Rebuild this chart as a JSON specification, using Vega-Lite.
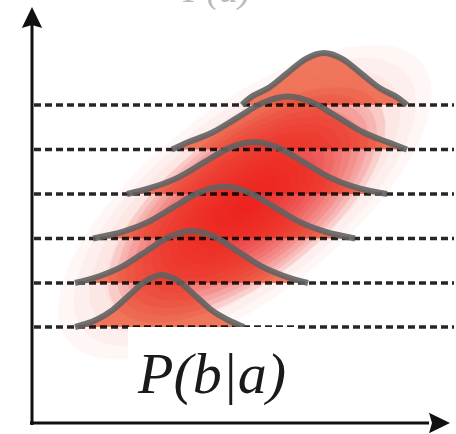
{
  "$schema": "https://vega.github.io/schema/vega-lite/v6.json",
  "width": 456,
  "height": 434,
  "autosize": {"type": "none"},
  "padding": 0,
  "background": "white",
  "config": {"view": {"stroke": null}},
  "resolve": {"scale": {"size": "independent"}},
  "datasets": {
    "glowBroad": [
      {"gx": 213, "gy": 221, "level": 1}, {"gx": 213, "gy": 221, "level": 2},
      {"gx": 213, "gy": 221, "level": 3}, {"gx": 213, "gy": 221, "level": 4},
      {"gx": 213, "gy": 221, "level": 5}, {"gx": 213, "gy": 221, "level": 6},
      {"gx": 213, "gy": 221, "level": 7}, {"gx": 213, "gy": 221, "level": 8},
      {"gx": 213, "gy": 221, "level": 9}, {"gx": 213, "gy": 221, "level": 10},
      {"gx": 213, "gy": 221, "level": 11}, {"gx": 213, "gy": 221, "level": 12}
    ],
    "glowCore": [
      {"gx": 215, "gy": 218, "level": 1}, {"gx": 215, "gy": 218, "level": 2},
      {"gx": 215, "gy": 218, "level": 3}, {"gx": 215, "gy": 218, "level": 4},
      {"gx": 215, "gy": 218, "level": 5}, {"gx": 215, "gy": 218, "level": 6},
      {"gx": 215, "gy": 218, "level": 7}, {"gx": 215, "gy": 218, "level": 8},
      {"gx": 215, "gy": 218, "level": 9}, {"gx": 215, "gy": 218, "level": 10},
      {"gx": 215, "gy": 218, "level": 11}, {"gx": 215, "gy": 218, "level": 12},
      {"gx": 215, "gy": 218, "level": 13}, {"gx": 215, "gy": 218, "level": 14},
      {"gx": 215, "gy": 218, "level": 15}, {"gx": 215, "gy": 218, "level": 16}
    ],
    "curves": [
      {"c": 6, "x": 43, "y": 96, "b": 96}, {"c": 6, "x": 64, "y": 103.04, "b": 96},
      {"c": 6, "x": 80.5, "y": 112.88, "b": 96}, {"c": 6, "x": 97, "y": 127.54, "b": 96},
      {"c": 6, "x": 113.5, "y": 141.89, "b": 96}, {"c": 6, "x": 130, "y": 148, "b": 96},
      {"c": 6, "x": 146.5, "y": 141.89, "b": 96}, {"c": 6, "x": 163, "y": 127.54, "b": 96},
      {"c": 6, "x": 179.5, "y": 112.88, "b": 96}, {"c": 6, "x": 196, "y": 103.04, "b": 96},
      {"c": 6, "x": 212, "y": 96, "b": 96},
      {"c": 5, "x": 43, "y": 140, "b": 140}, {"c": 5, "x": 68, "y": 147.04, "b": 140},
      {"c": 5, "x": 91, "y": 156.88, "b": 140}, {"c": 5, "x": 114, "y": 171.54, "b": 140},
      {"c": 5, "x": 137, "y": 185.89, "b": 140}, {"c": 5, "x": 160, "y": 192, "b": 140},
      {"c": 5, "x": 183, "y": 185.89, "b": 140}, {"c": 5, "x": 206, "y": 171.54, "b": 140},
      {"c": 5, "x": 229, "y": 156.88, "b": 140}, {"c": 5, "x": 252, "y": 147.04, "b": 140},
      {"c": 5, "x": 276, "y": 140, "b": 140},
      {"c": 4, "x": 61, "y": 184.5, "b": 184.5}, {"c": 4, "x": 92, "y": 191.54, "b": 184.5},
      {"c": 4, "x": 117, "y": 201.38, "b": 184.5}, {"c": 4, "x": 142, "y": 216.04, "b": 184.5},
      {"c": 4, "x": 167, "y": 230.39, "b": 184.5}, {"c": 4, "x": 192, "y": 236.5, "b": 184.5},
      {"c": 4, "x": 217, "y": 230.39, "b": 184.5}, {"c": 4, "x": 242, "y": 216.04, "b": 184.5},
      {"c": 4, "x": 267, "y": 201.38, "b": 184.5}, {"c": 4, "x": 292, "y": 191.54, "b": 184.5},
      {"c": 4, "x": 323, "y": 184.5, "b": 184.5},
      {"c": 3, "x": 95, "y": 229, "b": 229}, {"c": 3, "x": 122, "y": 236.04, "b": 229},
      {"c": 3, "x": 147, "y": 245.88, "b": 229}, {"c": 3, "x": 172, "y": 260.54, "b": 229},
      {"c": 3, "x": 197, "y": 274.89, "b": 229}, {"c": 3, "x": 222, "y": 281, "b": 229},
      {"c": 3, "x": 247, "y": 274.89, "b": 229}, {"c": 3, "x": 272, "y": 260.54, "b": 229},
      {"c": 3, "x": 297, "y": 245.88, "b": 229}, {"c": 3, "x": 322, "y": 236.04, "b": 229},
      {"c": 3, "x": 355, "y": 229, "b": 229},
      {"c": 2, "x": 140, "y": 273.5, "b": 273.5}, {"c": 2, "x": 156, "y": 280.67, "b": 273.5},
      {"c": 2, "x": 181, "y": 290.71, "b": 273.5}, {"c": 2, "x": 206, "y": 305.64, "b": 273.5},
      {"c": 2, "x": 231, "y": 320.27, "b": 273.5}, {"c": 2, "x": 256, "y": 326.5, "b": 273.5},
      {"c": 2, "x": 281, "y": 320.27, "b": 273.5}, {"c": 2, "x": 306, "y": 305.64, "b": 273.5},
      {"c": 2, "x": 331, "y": 290.71, "b": 273.5}, {"c": 2, "x": 356, "y": 280.67, "b": 273.5},
      {"c": 2, "x": 375, "y": 273.5, "b": 273.5},
      {"c": 1, "x": 210, "y": 318, "b": 318}, {"c": 1, "x": 218, "y": 325.04, "b": 318},
      {"c": 1, "x": 236.5, "y": 334.88, "b": 318}, {"c": 1, "x": 255, "y": 349.54, "b": 318},
      {"c": 1, "x": 273.5, "y": 363.89, "b": 318}, {"c": 1, "x": 292, "y": 370, "b": 318},
      {"c": 1, "x": 310.5, "y": 363.89, "b": 318}, {"c": 1, "x": 329, "y": 349.54, "b": 318},
      {"c": 1, "x": 347.5, "y": 334.88, "b": 318}, {"c": 1, "x": 366, "y": 325.04, "b": 318},
      {"c": 1, "x": 375, "y": 318, "b": 318}
    ],
    "levels": [
      {"y": 318, "x0": 2, "x1": 422}, {"y": 273.5, "x0": 2, "x1": 422},
      {"y": 229, "x0": 2, "x1": 422}, {"y": 184.5, "x0": 2, "x1": 422},
      {"y": 140, "x0": 2, "x1": 422}, {"y": 96, "x0": 2, "x1": 422}
    ],
    "axes": [
      {"x": 0, "y": -2, "x2": 0, "y2": 398},
      {"x": -2, "y": 0, "x2": 397, "y2": 0}
    ],
    "mask": [{"x": 96, "x2": 265, "y": 3, "y2": 96}],
    "upArrow": [{"x": 0, "y": 404}],
    "rightArrow": [{"x": 406, "y": 0}],
    "label": [{"t": "P(b|a)", "x": 180, "y": 30}],
    "topLabel": [{"t": "P(a)", "x": 185, "y": 421}]
  },
  "layer": [
    {
      "data": {"name": "glowBroad"},
      "mark": {"type": "point", "shape": "M-1,0A1,0.42,0,1,1,1,0A1,0.42,0,1,1,-1,0Z", "filled": true, "color": "#f06a4a", "opacity": 0.05, "angle": -38, "strokeWidth": 0},
      "encoding": {
        "x": {"field": "gx", "type": "quantitative", "scale": {"domain": [-32, 424], "nice": false, "zero": false}, "axis": null},
        "y": {"field": "gy", "type": "quantitative", "scale": {"domain": [-11, 423], "nice": false, "zero": false}, "axis": null},
        "size": {"field": "level", "type": "quantitative", "scale": {"type": "pow", "exponent": 2, "domain": [0, 12], "range": [0, 202500]}, "legend": null}
      }
    },
    {
      "data": {"name": "curves"},
      "mark": {"type": "area", "interpolate": "monotone", "color": "#ec5a3a", "opacity": 0.82},
      "encoding": {
        "x": {"field": "x", "type": "quantitative", "scale": {"domain": [-32, 424], "nice": false, "zero": false}, "axis": null},
        "y": {"field": "y", "type": "quantitative", "scale": {"domain": [-11, 423], "nice": false, "zero": false}, "axis": null},
        "y2": {"field": "b"},
        "detail": {"field": "c", "type": "nominal"}
      }
    },
    {
      "data": {"name": "glowCore"},
      "mark": {"type": "point", "shape": "M-1,0A1,0.45,0,1,1,1,0A1,0.45,0,1,1,-1,0Z", "filled": true, "color": "#f01818", "opacity": 0.11, "angle": -38, "strokeWidth": 0},
      "encoding": {
        "x": {"field": "gx", "type": "quantitative", "scale": {"domain": [-32, 424], "nice": false, "zero": false}, "axis": null},
        "y": {"field": "gy", "type": "quantitative", "scale": {"domain": [-11, 423], "nice": false, "zero": false}, "axis": null},
        "size": {"field": "level", "type": "quantitative", "scale": {"type": "pow", "exponent": 2, "domain": [0, 16], "range": [0, 110000]}, "legend": null}
      }
    },
    {
      "data": {"name": "levels"},
      "mark": {"type": "rule", "color": "#000000", "strokeWidth": 3.5, "strokeDash": [7, 4], "opacity": 0.85},
      "encoding": {
        "x": {"field": "x0", "type": "quantitative", "scale": {"domain": [-32, 424], "nice": false, "zero": false}, "axis": null},
        "x2": {"field": "x1"},
        "y": {"field": "y", "type": "quantitative", "scale": {"domain": [-11, 423], "nice": false, "zero": false}, "axis": null}
      }
    },
    {
      "data": {"name": "curves"},
      "mark": {"type": "line", "interpolate": "monotone", "color": "#626262", "strokeWidth": 6, "opacity": 0.9, "strokeCap": "butt"},
      "encoding": {
        "x": {"field": "x", "type": "quantitative", "scale": {"domain": [-32, 424], "nice": false, "zero": false}, "axis": null},
        "y": {"field": "y", "type": "quantitative", "scale": {"domain": [-11, 423], "nice": false, "zero": false}, "axis": null},
        "detail": {"field": "c", "type": "nominal"}
      }
    },
    {
      "data": {"name": "mask"},
      "mark": {"type": "rect", "color": "white", "opacity": 1},
      "encoding": {
        "x": {"field": "x", "type": "quantitative", "scale": {"domain": [-32, 424], "nice": false, "zero": false}, "axis": null},
        "x2": {"field": "x2"},
        "y": {"field": "y", "type": "quantitative", "scale": {"domain": [-11, 423], "nice": false, "zero": false}, "axis": null},
        "y2": {"field": "y2"}
      }
    },
    {
      "data": {"name": "axes"},
      "mark": {"type": "rule", "color": "#111111", "strokeWidth": 3},
      "encoding": {
        "x": {"field": "x", "type": "quantitative", "scale": {"domain": [-32, 424], "nice": false, "zero": false}, "axis": null},
        "x2": {"field": "x2"},
        "y": {"field": "y", "type": "quantitative", "scale": {"domain": [-11, 423], "nice": false, "zero": false}, "axis": null},
        "y2": {"field": "y2"}
      }
    },
    {
      "data": {"name": "upArrow"},
      "mark": {"type": "point", "shape": "M0,-1L0.85,0.75L0,0.5L-0.85,0.75Z", "filled": true, "color": "#111111", "opacity": 1, "size": 576, "strokeWidth": 0},
      "encoding": {
        "x": {"field": "x", "type": "quantitative", "scale": {"domain": [-32, 424], "nice": false, "zero": false}, "axis": null},
        "y": {"field": "y", "type": "quantitative", "scale": {"domain": [-11, 423], "nice": false, "zero": false}, "axis": null}
      }
    },
    {
      "data": {"name": "rightArrow"},
      "mark": {"type": "point", "shape": "M0,-1L0.85,0.75L0,0.5L-0.85,0.75Z", "filled": true, "color": "#111111", "opacity": 1, "size": 576, "angle": 90, "strokeWidth": 0},
      "encoding": {
        "x": {"field": "x", "type": "quantitative", "scale": {"domain": [-32, 424], "nice": false, "zero": false}, "axis": null},
        "y": {"field": "y", "type": "quantitative", "scale": {"domain": [-11, 423], "nice": false, "zero": false}, "axis": null}
      }
    },
    {
      "data": {"name": "label"},
      "mark": {"type": "text", "font": "Liberation Serif", "fontStyle": "italic", "fontSize": 58, "color": "#1a1a1a", "align": "center", "baseline": "alphabetic"},
      "encoding": {
        "x": {"field": "x", "type": "quantitative", "scale": {"domain": [-32, 424], "nice": false, "zero": false}, "axis": null},
        "y": {"field": "y", "type": "quantitative", "scale": {"domain": [-11, 423], "nice": false, "zero": false}, "axis": null},
        "text": {"field": "t"}
      }
    },
    {
      "data": {"name": "topLabel"},
      "mark": {"type": "text", "font": "Liberation Serif", "fontStyle": "italic", "fontSize": 38, "color": "#bbbbbb", "align": "center", "baseline": "alphabetic"},
      "encoding": {
        "x": {"field": "x", "type": "quantitative", "scale": {"domain": [-32, 424], "nice": false, "zero": false}, "axis": null},
        "y": {"field": "y", "type": "quantitative", "scale": {"domain": [-11, 423], "nice": false, "zero": false}, "axis": null},
        "text": {"field": "t"}
      }
    }
  ]
}
